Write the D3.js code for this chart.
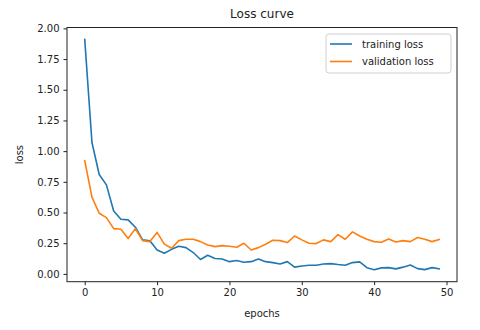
<!DOCTYPE html>
<html><head><meta charset="utf-8">
<script src="https://cdn.jsdelivr.net/npm/d3@7"></script>
<style>
html,body{margin:0;padding:0;background:#fff;}
svg text{font-family:"DejaVu Sans",sans-serif;fill:#222;}
</style></head>
<body><svg id="c" width="480" height="330"></svg>
<script>
const epochs = d3.range(0, 50);
const trainingLoss = [1.91,1.07,0.81,0.725,0.513,0.445,0.44,0.38,0.277,0.27,
  0.195,0.168,0.2,0.225,0.214,0.174,0.117,0.152,0.125,0.122,
  0.1,0.109,0.095,0.1,0.122,0.1,0.092,0.081,0.1,0.055,
  0.065,0.071,0.071,0.081,0.084,0.076,0.071,0.092,0.098,0.051,
  0.033,0.049,0.051,0.041,0.055,0.073,0.043,0.035,0.051,0.041];
const validationLoss = [0.923,0.625,0.494,0.458,0.369,0.364,0.288,0.369,0.271,0.263,
  0.338,0.243,0.209,0.271,0.282,0.282,0.263,0.236,0.222,0.23,
  0.225,0.217,0.25,0.195,0.214,0.242,0.274,0.271,0.255,0.309,
  0.277,0.25,0.247,0.277,0.263,0.32,0.282,0.342,0.309,0.282,
  0.263,0.258,0.285,0.26,0.271,0.263,0.296,0.282,0.263,0.28];
const xTicks = [0,10,20,30,40,50];
const yTicks = [0,0.25,0.5,0.75,1.0,1.25,1.5,1.75,2.0];
const seriesNames = ["training loss","validation loss"];
const colors = ["#1f77b4","#ff7f0e"];

const svg = d3.select("#c");
const L=67, R=457, T=27.5, B=281.7;
const x = d3.scaleLinear().domain([-2.45, 51.45]).range([L, R]);
const y = d3.scaleLinear().domain([-0.0635, 2.007]).range([B, T]);

// frame
svg.append("rect").attr("x",L).attr("y",T).attr("width",R-L).attr("height",B-T)
  .attr("fill","none").attr("stroke","#222").attr("stroke-width",1);

const xa = svg.append("g").attr("transform",`translate(0,${B})`)
  .call(d3.axisBottom(x).tickValues(xTicks).tickFormat(d3.format("d")).tickSize(3.5).tickPadding(4));
const ya = svg.append("g").attr("transform",`translate(${L},0)`)
  .call(d3.axisLeft(y).tickValues(yTicks).tickFormat(d3.format(".2f")).tickSize(3.5).tickPadding(4));
[xa,ya].forEach(a=>{
  a.select(".domain").remove();
  a.selectAll(".tick line").attr("stroke","#222");
  a.selectAll(".tick text").attr("font-size",10).style("fill","#222");
});

const series = [trainingLoss, validationLoss];
const line = d3.line().x((d,i)=>x(epochs[i])).y(d=>y(d));
series.forEach((s,k)=>{
  svg.append("path").datum(s).attr("d",line).attr("fill","none")
    .attr("stroke",colors[k]).attr("stroke-width",1.6).attr("stroke-linejoin","round").attr("stroke-linecap","square");
});

// title & labels
svg.append("text").attr("x",(L+R)/2).attr("y",18).attr("text-anchor","middle").attr("font-size",12).text("Loss curve");
svg.append("text").attr("x",(L+R)/2).attr("y",317).attr("text-anchor","middle").attr("font-size",10).text("epochs");
svg.append("text").attr("transform",`translate(23,${(T+B)/2}) rotate(-90)`).attr("text-anchor","middle").attr("font-size",10).text("loss");

// legend
const lg = svg.append("g");
lg.append("rect").attr("x",326).attr("y",34).attr("width",125).attr("height",39).attr("rx",3)
  .attr("fill","#fff").attr("fill-opacity",0.8).attr("stroke","#d0d0d0").attr("stroke-width",1);
seriesNames.forEach((n,k)=>{
  const yy = 44 + k*17.5;
  lg.append("line").attr("x1",330).attr("x2",352).attr("y1",yy).attr("y2",yy)
    .attr("stroke",colors[k]).attr("stroke-width",1.6);
  lg.append("text").attr("x",362).attr("y",yy+3.5).attr("font-size",10).text(n);
});
</script></body></html>
